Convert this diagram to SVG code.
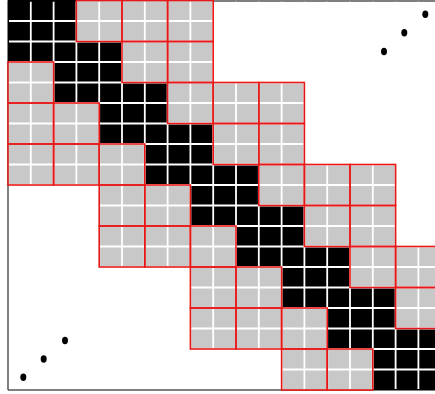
<svg xmlns="http://www.w3.org/2000/svg" width="435" height="394" viewBox="0 0 435 394">
<style>
.frame{stroke:#555;stroke-width:1.5;fill:none}
.band{fill:#000}
.g{fill:#c8c8c8}
.wl{stroke:#fff;stroke-width:1.8;fill:none}
.rb{fill:none;stroke:#e81818;stroke-width:1.6}
.dot{fill:#000}
</style>
<defs>
<rect id="blk" width="45.6" height="41"/>
</defs>
<rect width="435" height="394" fill="#fff"/>
<g id="frame">
<path class="frame" d="M8,390 L8,1 L435,1 M8,390 L435,390"/>
</g>
<g id="grey-fill" class="g">
<use href="#blk" x="76.4" y="0.5"/><use href="#blk" x="122" y="0.5"/><use href="#blk" x="167.6" y="0.5"/>
<use href="#blk" x="122" y="41.5"/><use href="#blk" x="167.6" y="41.5"/>
<use href="#blk" x="167.6" y="82.5"/><use href="#blk" x="213.2" y="82.5"/><use href="#blk" x="258.8" y="82.5"/>
<use href="#blk" x="213.2" y="123.5"/><use href="#blk" x="258.8" y="123.5"/>
<use href="#blk" x="258.8" y="164.5"/><use href="#blk" x="304.4" y="164.5"/><use href="#blk" x="350" y="164.5"/>
<use href="#blk" x="304.4" y="205.5"/><use href="#blk" x="350" y="205.5"/>
<use href="#blk" x="350" y="246.5"/><use href="#blk" x="395.6" y="246.5"/>
<use href="#blk" x="395.6" y="287.5"/>
<use href="#blk" x="8" y="62"/>
<use href="#blk" x="8" y="103"/><use href="#blk" x="53.6" y="103"/>
<use href="#blk" x="8" y="144"/><use href="#blk" x="53.6" y="144"/><use href="#blk" x="99.2" y="144"/>
<use href="#blk" x="99.2" y="185"/><use href="#blk" x="144.8" y="185"/>
<use href="#blk" x="99.2" y="226"/><use href="#blk" x="144.8" y="226"/><use href="#blk" x="190.4" y="226"/>
<use href="#blk" x="190.4" y="267"/><use href="#blk" x="236" y="267"/>
<use href="#blk" x="190.4" y="308"/><use href="#blk" x="236" y="308"/><use href="#blk" x="281.6" y="308"/>
<use href="#blk" x="281.6" y="349"/><use href="#blk" x="327.2" y="349"/>
</g>
<g id="diagonal">
<path class="band" d="M8,0 L76.4,0 L76.4,41.5 L122,41.5 L122,82.5 L167.6,82.5 L167.6,123.5 L213.2,123.5 L213.2,164.5 L258.8,164.5 L258.8,205.5 L304.4,205.5 L304.4,246.5 L350,246.5 L350,287.5 L395.6,287.5 L395.6,328.5 L441.2,328.5 L441.2,390 L372.8,390 L372.8,349 L327.2,349 L327.2,308 L281.6,308 L281.6,267 L236,267 L236,226 L190.4,226 L190.4,185 L144.8,185 L144.8,144 L99.2,144 L99.2,103 L53.6,103 L53.6,62 L8,62 Z"/>
</g>
<g id="cell-lines" class="wl">
<path d="M30.8,1.8V389 M53.6,1.8V389 M76.4,1.8V389 M99.2,1.8V389 M122,1.8V389 M144.8,1.8V389 M167.6,1.8V389 M190.4,1.8V389 M213.2,1.8V389 M236,1.8V389 M258.8,1.8V389 M281.6,1.8V389 M304.4,1.8V389 M327.2,1.8V389 M350,1.8V389 M372.8,1.8V389 M395.6,1.8V389 M418.4,1.8V389"/>
<path d="M9,21H435 M9,41.5H435 M9,62H435 M9,82.5H435 M9,103H435 M9,123.5H435 M9,144H435 M9,164.5H435 M9,185H435 M9,205.5H435 M9,226H435 M9,246.5H435 M9,267H435 M9,287.5H435 M9,308H435 M9,328.5H435 M9,349H435 M9,369.5H435"/>
</g>
<g id="block-borders" class="rb">
<use href="#blk" x="76.4" y="0.5"/><use href="#blk" x="122" y="0.5"/><use href="#blk" x="167.6" y="0.5"/>
<use href="#blk" x="122" y="41.5"/><use href="#blk" x="167.6" y="41.5"/>
<use href="#blk" x="167.6" y="82.5"/><use href="#blk" x="213.2" y="82.5"/><use href="#blk" x="258.8" y="82.5"/>
<use href="#blk" x="213.2" y="123.5"/><use href="#blk" x="258.8" y="123.5"/>
<use href="#blk" x="258.8" y="164.5"/><use href="#blk" x="304.4" y="164.5"/><use href="#blk" x="350" y="164.5"/>
<use href="#blk" x="304.4" y="205.5"/><use href="#blk" x="350" y="205.5"/>
<use href="#blk" x="350" y="246.5"/><use href="#blk" x="395.6" y="246.5"/>
<use href="#blk" x="395.6" y="287.5"/>
<use href="#blk" x="8" y="62"/>
<use href="#blk" x="8" y="103"/><use href="#blk" x="53.6" y="103"/>
<use href="#blk" x="8" y="144"/><use href="#blk" x="53.6" y="144"/><use href="#blk" x="99.2" y="144"/>
<use href="#blk" x="99.2" y="185"/><use href="#blk" x="144.8" y="185"/>
<use href="#blk" x="99.2" y="226"/><use href="#blk" x="144.8" y="226"/><use href="#blk" x="190.4" y="226"/>
<use href="#blk" x="190.4" y="267"/><use href="#blk" x="236" y="267"/>
<use href="#blk" x="190.4" y="308"/><use href="#blk" x="236" y="308"/><use href="#blk" x="281.6" y="308"/>
<use href="#blk" x="281.6" y="349"/><use href="#blk" x="327.2" y="349"/>
</g>
<g id="ellipsis-dots" class="dot">
<ellipse cx="425.3" cy="14.3" rx="3" ry="3.7"/>
<ellipse cx="404.3" cy="32.7" rx="3" ry="3.7"/>
<ellipse cx="384" cy="51.5" rx="3" ry="3.7"/>
<ellipse cx="65" cy="340.5" rx="3" ry="3.7"/>
<ellipse cx="43.7" cy="359" rx="3" ry="3.7"/>
<ellipse cx="23.3" cy="377.3" rx="3" ry="3.7"/>
</g>
</svg>
